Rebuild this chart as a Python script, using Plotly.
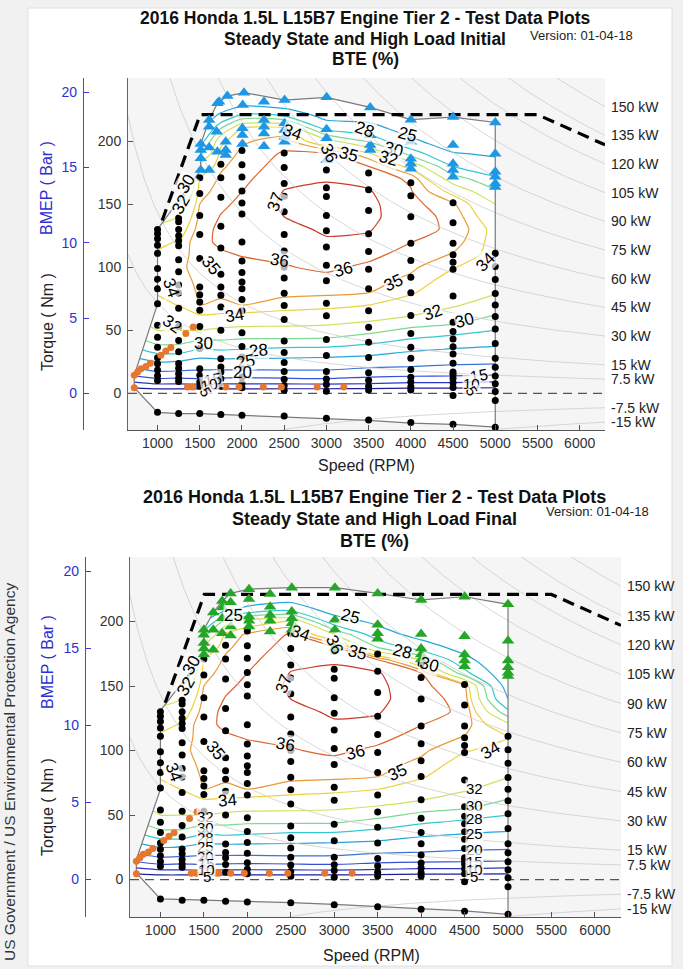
import numpy as np
import plotly.graph_objects as go

FONT = "Liberation Sans, Arial, sans-serif"

# ---------------- data ----------------
speed_cols = [720, 1000, 1250, 1500, 1750, 2000, 2500, 3000, 3500, 4000, 4500, 5000]
torque_rows = [-10, 0, 5, 10, 15, 20, 25, 30, 35, 40, 45, 50, 55, 60, 70, 80, 90,
               100, 110, 120, 130, 140, 150, 160, 170, 180, 190, 200, 210, 220, 230, 240]

# BTE (%) estimated per speed column (one value per torque row) - Initial
bte_initial = [
    [-6, 0, 5.6, 11.1, 16.2, 20, 23.1, 25.8, 27.6, 28.9, 30, 30.8, 31.5, 32.1, 32.7, 33, 33.2, 33.3, 33.3, 33.2, 33, 32.8, 32.5, 32, 31.5, 31, 30, 29, 28, 27, 26, 25],
    [-6, 0, 6.9, 13.1, 18.2, 21.9, 25, 27.5, 29.1, 30.3, 31.2, 32, 32.4, 32.8, 33.6, 34.1, 34.3, 34.3, 34.1, 33.8, 32.6, 31.3, 30, 28, 26, 25, 24, 23, 22, 21.5, 21, 21],
    [-6, 0, 7.0, 12.9, 17.8, 21.6, 24.7, 27.5, 29.1, 30.3, 31.2, 32, 32.6, 33.1, 34.04, 34.26, 34.48, 34.7, 34.38, 34.06, 33.1, 32, 30, 27.1, 24, 22.5, 22, 21.5, 21.5, 21, 21, 21],
    [-6, 0, 6.9, 13.6, 17.7, 20.8, 23.6, 26, 28, 29.4, 30.75, 32, 32.8, 33.7, 35, 35.16, 35.32, 35.48, 35.64, 35.8, 35.53, 35.27, 35, 34.55, 34.09, 32.4, 29.43, 26.5, 24, 22.5, 22, 21.5],
    [-6, 0, 6.9, 13.1, 17.5, 20.9, 23.8, 26.3, 28.25, 29.5, 30.6, 31.6, 32.6, 33.6, 34.8, 35.19, 35.43, 35.67, 35.9, 36.13, 36.26, 36.06, 35.79, 35.48, 35.18, 34.83, 34.39, 33.67, 30, 25.75, 22.6, 21.5],
    [-6, 0, 6.9, 12.8, 17.3, 20.9, 23.8, 26.1, 28, 29.25, 30.4, 31.4, 32.4, 33.4, 35, 35.26, 35.53, 35.79, 36.04, 36.27, 36.49, 36.48, 36.24, 36, 35.74, 35.47, 35.21, 34.85, 34.08, 28.67, 23.9, 21.5],
    [-6, 0, 6.8, 13.1, 17.7, 21.05, 23.7, 25.9, 27.6, 29.1, 30.4, 31.4, 32.3, 33.2, 34.6, 35.24, 35.59, 35.93, 36.21, 36.47, 36.74, 37, 37.17, 37.04, 36.76, 36.45, 36.15, 35.44, 34.25, 28, 22.9, 21.5],
    [-6, 0, 6.8, 13.5, 17.8, 20.9, 23.4, 25.6, 27.5, 29.04, 30.3, 31.2, 32.17, 33, 34.38, 35.19, 35.73, 36.18, 36.54, 36.89, 37.13, 37.31, 37.32, 37.15, 36.95, 36.48, 36, 32.67, 27.25, 23.8, 22, 21.5],
    [-6, 0, 6.6, 12.6, 16.7, 19.8, 22.4, 25.03, 26.76, 28.3, 29.45, 30.6, 31.66, 32.5, 34, 35.03, 35.42, 35.81, 36.25, 36.75, 37.08, 37.23, 37.23, 37.09, 36.71, 36, 34.33, 29.71, 26.5, 23.36, 22, 21.5],
    [-6, 0, 5.9, 11.7, 16.3, 19.44, 21.7, 23.8, 25.67, 27.2, 28.45, 29.5, 30.65, 31.8, 33.18, 34.19, 34.75, 35.22, 35.64, 36.02, 36.2, 36.45, 36.35, 36.09, 35.8, 33.5, 29.33, 25.75, 23.2, 22, 21.5, 21],
    [-6, 0, 6, 11.7, 15.86, 18.74, 21.05, 22.93, 24.81, 26.29, 27.71, 28.9, 30.03, 30.9, 32.22, 32.83, 33.45, 34.08, 34.92, 35.5, 35.9, 35.7, 35.2, 33.5, 31, 28, 25.27, 22.8, 22, 21.5, 21, 21],
    [-6, 0, 5.56, 10.94, 15.41, 18.35, 20.79, 22.57, 24.36, 25.73, 26.86, 28, 28.83, 29.67, 31.1, 32.16, 32.6, 33.05, 33.5, 33.5, 33.5, 32.75, 32, 30.33, 28.4, 26.5, 24.5, 23, 22, 21.5, 21, 21],
]

# BTE (%) estimated per speed column - Final
bte_final = [
    [-6, 0, 5.6, 11.1, 16.2, 20, 23.1, 25.8, 27.6, 28.9, 30, 30.8, 31.5, 32.1, 32.7, 33, 33.2, 33.3, 33.3, 33.2, 33, 32.8, 32.5, 32, 31.5, 31, 30, 29, 28, 27, 26, 25],
    [-6, 0, 6.9, 13.1, 18.2, 21.9, 25, 27.5, 29.1, 30.3, 31.2, 32, 32.4, 32.8, 33.6, 34.1, 34.3, 34.3, 34.1, 33.8, 32.6, 31.3, 30, 28, 26, 25, 24, 23, 22, 21.5, 21, 21],
    [-6, 0, 7.0, 12.9, 17.8, 21.6, 24.7, 27.5, 29.1, 30.3, 31.2, 32, 32.6, 33.1, 34.04, 34.26, 34.48, 34.7, 34.38, 34.06, 33.1, 32, 30, 27.1, 24, 22.5, 22, 21.5, 21.5, 21, 21, 21],
    [-6, 0, 6.9, 13.6, 17.7, 20.8, 23.6, 26, 28, 29.4, 30.75, 32, 32.8, 33.7, 35, 35.16, 35.32, 35.48, 35.64, 35.8, 35.53, 35.27, 35, 34.55, 34.09, 32.4, 29.2, 25, 23, 22, 21.5, 21],
    [-6, 0, 6.9, 13.1, 17.5, 20.9, 23.8, 26.3, 28.25, 29.5, 30.6, 31.6, 32.6, 33.6, 34.8, 35.19, 35.43, 35.67, 35.9, 36.13, 36.26, 36.06, 35.79, 35.48, 35.18, 34.8, 34.3, 31, 24, 22, 21.5, 21],
    [-6, 0, 6.9, 12.8, 17.3, 20.9, 23.8, 26.1, 28, 29.25, 30.4, 31.4, 32.4, 33.4, 35, 35.26, 35.53, 35.79, 36.04, 36.27, 36.49, 36.48, 36.24, 36, 35.72, 35.44, 35.17, 33, 25.6, 22.5, 21.5, 21],
    [-6, 0, 6.8, 13.1, 17.7, 21.05, 23.7, 25.9, 27.6, 29.1, 30.4, 31.4, 32.3, 33.2, 34.6, 35.24, 35.59, 35.93, 36.21, 36.47, 36.74, 37, 37.17, 37.04, 36.74, 36.42, 36.1, 34, 26.8, 23, 22, 21],
    [-6, 0, 6.8, 13.5, 17.8, 20.9, 23.4, 25.6, 27.5, 29.04, 30.3, 31.2, 32.17, 33, 34.38, 35.19, 35.73, 36.18, 36.54, 36.89, 37.13, 37.31, 37.32, 37.15, 36.92, 36.15, 32, 26.5, 23.4, 22, 21.5, 21],
    [-6, 0, 6.6, 12.6, 16.7, 19.8, 22.4, 25.03, 26.76, 28.3, 29.45, 30.6, 31.66, 32.5, 34, 35.03, 35.42, 35.81, 36.25, 36.75, 37.08, 37.23, 37.23, 37.09, 36.2, 30, 26.5, 24.3, 23, 22, 21.5, 21],
    [-6, 0, 5.9, 11.7, 16.3, 19.44, 21.7, 23.8, 25.67, 27.2, 28.45, 29.5, 30.65, 31.8, 33.18, 34.19, 34.75, 35.22, 35.64, 36.02, 36.2, 36.45, 36.3, 36.04, 32, 26.67, 23.75, 22.5, 22, 21.5, 21, 21],
    [-6, 0, 6, 11.7, 15.86, 18.74, 21.05, 22.93, 24.81, 26.29, 27.71, 28.9, 30.03, 30.9, 32.22, 32.83, 33.45, 34.08, 34.92, 35.5, 35.9, 35.6, 35.1, 28.8, 26, 23.7, 22.5, 22, 21.5, 21, 21, 21],
    [-6, 0, 5.56, 10.94, 15.41, 18.35, 20.79, 22.57, 24.36, 25.73, 26.86, 28, 28.83, 29.67, 31.1, 32.1, 32.75, 33.6, 34.0, 32.5, 28.57, 25, 23.5, 22.5, 22, 21.5, 21.5, 21, 21, 21, 21, 21],
]

contour_levels = [5, 10, 15, 20, 25, 28, 30, 32, 34, 35, 36, 37]
level_colors = ['#1d1d96', '#2a36c4', '#3552d6', '#3a72d8', '#26a6da', '#36c8cf',
                '#7dd98d', '#cfe25e', '#ecd23c', '#ea9a34', '#dc6630', '#c93b2b']

# contour labels as they appear in the picture: text, speed, torque, angle, font size
labels_initial = [
    ("37", 2400, 152, -70, 17), ("36", 3030, 190, 65, 17), ("35", 3265, 189, 15, 17), ("34", 2600, 207, 20, 17),
    ("28", 3450, 209, 20, 17), ("25", 3960, 205, 15, 17), ("30", 3800, 193, 15, 17), ("32", 3740, 186, 15, 17),
    ("36", 2450, 105, 10, 17), ("36", 3200, 98, -15, 17), ("35", 3800, 88, -25, 17), ("35", 1630, 101, 50, 17),
    ("34", 4880, 104, -45, 17), ("34", 1160, 84, 70, 17), ("32", 1180, 55, 35, 17), ("34", 1910, 62, -10, 17),
    ("32", 4260, 64.5, -20, 17), ("30", 4630, 58, -15, 17), ("30", 1540, 39.5, 0, 17), ("28", 2190, 34, -5, 17),
    ("25", 2040, 25.5, -10, 17), ("20", 2010, 16.5, 0, 17), ("15", 1660, 11, -10, 16), ("15", 4810, 14.3, -10, 16),
    ("10", 1620, 6.8, -10, 15), ("10", 4720, 7.7, 0, 15), ("5", 1570, 1.5, 60, 15), ("5", 4720, 2.4, 60, 15),
    ("32", 1275, 150, -60, 17), ("30", 1345, 166, -60, 17),
]
labels_final = [
    ("37", 2420, 152, -70, 17), ("36", 3000, 182, 65, 17), ("35", 3265, 176, 15, 17), ("34", 2613, 191, 20, 17),
    ("25", 1845, 205, 0, 17), ("25", 3189, 204, 15, 17), ("28", 3784, 177, 15, 17), ("30", 4091, 167, 15, 17),
    ("36", 2440, 105, 10, 17), ("36", 3246, 98.5, -15, 17), ("35", 3726, 83, -25, 17), ("35", 1634, 100, 50, 17),
    ("34", 4800, 100, -30, 17), ("34", 1154, 83, 70, 17), ("34", 1769, 61.5, -5, 17),
    ("32", 1519, 49, 0, 15), ("30", 1519, 40, 0, 15), ("28", 1519, 33, 0, 15), ("25", 1519, 25.6, 0, 15),
    ("20", 1519, 18, 0, 15), ("15", 1530, 12.8, 0, 15), ("10", 1535, 7.7, 0, 15), ("5", 1540, 2.5, 0, 15),
    ("32", 4610, 70.5, 0, 15), ("30", 4610, 57.7, 0, 15), ("28", 4610, 47.4, 0, 15), ("25", 4610, 36, 0, 15),
    ("20", 4610, 23, 0, 15), ("15", 4610, 14, 0, 15), ("10", 4610, 8.2, 0, 15), ("5", 4610, 2.5, 0, 15),
    ("32", 1290, 150, -60, 17), ("30", 1355, 166, -60, 17),
]

# steady-state test points (black)
pt_speed_cols = [1000, 1250, 1500, 1750, 2000, 2500, 3000, 3500, 4000, 4500, 5000]
pt_torque = [
    [130, 126.5, 122.5, 117.5, 111, 99, 90.5, 83, 71, 54, 44.5, 36.5, 28.3, 23.5, 18.5, 14, 10.3, -15],
    [139, 136, 130, 125, 121, 117, 106, 96.5, 86, 79.5, 67.5, 53, 42, 33, 23.7, 20, 15.5, 12, 9.5, -16],
    [171, 158.5, 141, 126, 107, 84.4, 78.3, 72.5, 66, 53, 35.5, 19.6, 14.3, 9, 5.6, -16],
    [181.7, 171, 155.5, 132.5, 115.3, 94.4, 84.4, 77.8, 68.5, 50, 27.5, 20.9, 16.9, 11.6, 5.6, -16.7],
    [192.6, 181.2, 171.5, 160.5, 151, 142.2, 120, 105, 95.8, 88.3, 83, 74.5, 65.5, 48, 37.2, 28.8, 20.5, 13, 8, 4.5, -17.3],
    [190.5, 179, 166.3, 156.3, 144, 126, 112.8, 102.5, 100, 91.5, 79.3, 69.7, 58.5, 41.5, 32.4, 24.5, 17.4, 11.3, 6.3, 2.5, -18],
    [177, 163, 156, 141, 129, 116, 101.6, 89.2, 71.5, 61.5, 42.8, 30, 17.4, 11.5, 7, 1.8, -19.6],
    [174.8, 161.5, 145, 126.5, 112.5, 98.4, 83, 65.6, 52.4, 40.6, 28.4, 16.4, 10.5, 5.7, 2.7, -21],
    [167, 156.6, 140, 119, 105.3, 92, 79.8, 61.8, 47.5, 36.5, 27.8, 19, 12.8, 9, 5.3, 2.8, -23],
    [151.2, 135.3, 119, 110, 104, 98.5, 77.2, 56.5, 49, 43.2, 37, 31.2, 24, 17, 15, 12, 8.4, 4.6, -1.7, -24.5],
    [111, 100.6, 90.2, 79.1, 70, 61, 51, 39.5, 27.8, 20.7, 13.8, 7.7, 1.5, -5.6, -26.8],
]

# high-load points (triangles)
tri_initial_speed = [1709, 1729, 1827, 2024, 2009, 2261, 2505, 3002, 1611, 1611, 1701, 1512, 1512, 1512, 1512,
                     1611, 1611, 1709, 1808, 1808, 1808, 2005, 2005, 2005, 2261, 2261, 2261, 2261,
                     2505, 2505, 2505, 2505, 3002, 3002, 3002, 3519, 4000, 4500, 5000, 3519, 3519, 3519,
                     4000, 4000, 4000, 4000, 4500, 4500, 4500, 4500, 5000, 5000, 5000, 5000, 5000]
tri_initial_torque = [229.9, 231.2, 235.7, 238.4, 228.6, 231.2, 232.5, 234.7, 216.7, 211.4, 207.4, 197.6, 192.9, 186.3, 177,
                      194.9, 177, 191.5, 199.5, 192.9, 188.9, 210.1, 204.8, 197.6, 216.7, 211.4, 206.1, 196,
                      214.1, 208.7, 203.4, 199.5, 209.4, 202.2, 185, 226.7, 217, 219, 214.8, 204.7, 196.8, 192.9,
                      199.5, 186, 182, 178, 196.8, 182, 177, 171.7, 190, 175.6, 171.7, 166.4, 163.7]
tri_final_speed = [1808, 2019, 2019, 2262, 2512, 3008, 1711, 1711, 1808, 1608, 1711, 1500, 1500, 1500, 1500, 1500,
                   1608, 1608, 1711, 1808, 1808, 2019, 2019, 2019, 2262, 2262, 2262, 2262,
                   2512, 2512, 2512, 2512, 3008, 3008, 3008, 3500, 4000, 4500, 5000, 3500, 3500, 3500,
                   4000, 4000, 4000, 4000, 4500, 4500, 4500, 4500, 5000, 5000, 5000, 5000, 5000]
tri_final_torque = [221.8, 225.1, 217.4, 221.3, 226.2, 226.2, 215.9, 210.8, 215, 207, 202.6, 193.6, 189.7, 183.3, 179, 174.4,
                    193.6, 178.2, 191, 196.2, 189.2, 203.8, 200.5, 196.2, 211.5, 205.1, 200.5, 192.3,
                    207.7, 202.6, 198.7, 193.6, 201.3, 193.6, 179.5, 221.8, 216.7, 219.2, 213.3, 197.4, 191, 186.7,
                    190.3, 179, 174.4, 170.5, 188.5, 174.4, 169.7, 165.4, 185.1, 169.7, 164.6, 160.3, 157.7]

# low-speed / motoring points (orange)
orange_speed = [724, 724, 764, 803, 862, 913, 1039, 1098, 1158, 1335, 1422, 1355, 1414, 1630, 1670, 1808, 1965, 2253, 2466, 2891, 3206]
orange_torque = [4.5, 14.3, 16.9, 19.6, 21.4, 24, 30.2, 33.6, 36.3, 47.4, 52.6, 5, 5, 5, 5, 5, 5, 5, 5, 5, 5]

# maximum torque curve (dashed)
max_speed = [1055, 1440, 1505, 5500, 6300]
max_torque = [137, 209, 221, 221, 197]

# test-area outline
bnd_initial_speed = [1000, 1512, 1512, 1611, 1709, 1827, 2024, 2505, 3002, 3519, 4000, 4500, 5000, 5000,
                     4500, 4000, 3500, 3000, 2500, 2000, 1750, 1500, 1250, 1000, 724, 724, 1000, 1000]
bnd_initial_torque = [130, 177, 197.6, 216.7, 229.9, 235.7, 238.4, 232.5, 234.7, 226.7, 217, 219, 214.8, -26.7,
                      -24.6, -23.6, -21.4, -20, -18.3, -17.5, -16.7, -16, -16, -15, 4.5, 14.3, 71, 130]
bnd_final_speed = [1000, 1500, 1500, 1608, 1711, 1808, 2019, 2512, 3008, 3500, 4000, 4500, 5000, 5000,
                   4500, 4000, 3500, 3000, 2500, 2000, 1750, 1500, 1250, 1000, 723, 723, 1000, 1000]
bnd_final_torque = [131, 174.4, 193.6, 207, 215.9, 221.8, 225.1, 226.2, 226.2, 221.8, 216.7, 219.2, 213.3, -26.9,
                    -24.3, -22.6, -20.5, -19.2, -17.9, -17, -16, -16, -15.4, -14.9, 5.1, 15.4, 70, 131]

power_kw = [150, 135, 120, 105, 90, 75, 60, 45, 30, 15, 7.5, -7.5, -15]
power_labels = ["150 kW", "135 kW", "120 kW", "105 kW", "90 kW", "75 kW", "60 kW", "45 kW",
                "30 kW", "15 kW", "7.5 kW", "-7.5 kW", "-15 kW"]

x_ticks = [1000, 1500, 2000, 2500, 3000, 3500, 4000, 4500, 5000, 5500, 6000]
torque_ticks = [0, 50, 100, 150, 200]
bmep_ticks = [0, 5, 10, 15, 20]

DISPLACEMENT_L = 1.5
NM_PER_BAR = DISPLACEMENT_L * 100 / (4 * np.pi)  # torque per bar BMEP (4-stroke)
X_RANGE = [650, 6300]
T_RANGE = [-29, 250]

W, H = 683, 969
GRAY_OUT = '#f5f5f5'

panels = [
    dict(xa='x', ya='y', yb='y3', xdom=[128 / W, 605 / W], ydom=[1 - 430 / H, 1 - 78 / H], bpos=83 / W,
         z=bte_initial, labels=labels_initial, tri=(tri_initial_speed, tri_initial_torque), tri_color='#1e98e4',
         bnd=(bnd_initial_speed, bnd_initial_torque),
         title_x=365, title_y=[18, 39, 59], subtitle="Steady State and High Load Initial", ver=(581, 36),
         bmep_title_y=188, torque_title_y=322, speed_title=(366, 466), tsize=17.5),
    dict(xa='x2', ya='y2', yb='y4', xdom=[130 / W, 621 / W], ydom=[1 - 917 / H, 1 - 557 / H], bpos=85 / W,
         z=bte_final, labels=labels_final, tri=(tri_final_speed, tri_final_torque), tri_color='#26a629',
         bnd=(bnd_final_speed, bnd_final_torque),
         title_x=374, title_y=[497, 519, 541], subtitle="Steady State and High Load Final", ver=(597, 512),
         bmep_title_y=662, torque_title_y=807, speed_title=(371, 955), tsize=18),
]

fig = go.Figure()
annotations = []
layout_axes = {}

for k, p in enumerate(panels):
    xa, ya, yb = p['xa'], p['ya'], p['yb']
    Z = np.array(p['z']).T  # rows = torque, cols = speed

    for lv, col in zip(contour_levels, level_colors):
        fig.add_trace(go.Contour(
            x=speed_cols, y=torque_rows, z=Z, xaxis=xa, yaxis=ya,
            autocontour=False,
            contours=dict(start=lv, end=lv, size=100, coloring='none', showlabels=False),
            line=dict(color=col, width=1.2, smoothing=0.6),
            showscale=False, hoverinfo='skip'))

    # grey mask outside the tested area (rectangle with the outline as a hole)
    bs, bt = p['bnd']
    mx = [600, 6400, 6400, 600, 600] + list(bs)
    my = [-40, -40, 260, 260, -40] + list(bt)
    fig.add_trace(go.Scatter(x=mx, y=my, xaxis=xa, yaxis=ya, mode='lines', fill='toself',
                             fillcolor=GRAY_OUT, line=dict(width=0, color=GRAY_OUT), hoverinfo='skip'))

    # constant power curves
    n = np.linspace(X_RANGE[0], X_RANGE[1], 300)
    for P, lab in zip(power_kw, power_labels):
        tq = P * 1000 * 60 / (2 * np.pi * n)
        fig.add_trace(go.Scatter(x=n, y=tq, xaxis=xa, yaxis=ya, mode='lines',
                                 line=dict(color='#cdcdcd', width=0.8), hoverinfo='skip'))
        annotations.append(dict(x=p['xdom'][1] + 4 / W, xref='paper', xanchor='left',
                                y=P * 1000 * 60 / (2 * np.pi * X_RANGE[1]), yref=ya, yanchor='middle',
                                text=lab, showarrow=False,
                                font=dict(family=FONT, size=14, color='#222')))

    # zero torque dashed line
    fig.add_trace(go.Scatter(x=X_RANGE, y=[0, 0], xaxis=xa, yaxis=ya, mode='lines',
                             line=dict(color='#555', width=1.2, dash='9px,6px'), hoverinfo='skip'))
    # outline
    fig.add_trace(go.Scatter(x=bs, y=bt, xaxis=xa, yaxis=ya, mode='lines',
                             line=dict(color='#7a7a7a', width=1.2), hoverinfo='skip'))
    # max torque dashed
    fig.add_trace(go.Scatter(x=max_speed, y=max_torque, xaxis=xa, yaxis=ya, mode='lines',
                             line=dict(color='black', width=3.2, dash='12px,7px'), hoverinfo='skip'))
    # black points
    px = [s for s, col in zip(pt_speed_cols, pt_torque) for _ in col]
    py = [t for col in pt_torque for t in col]
    fig.add_trace(go.Scatter(x=px, y=py, xaxis=xa, yaxis=ya, mode='markers',
                             marker=dict(color='black', size=7), hoverinfo='skip'))
    # orange points
    fig.add_trace(go.Scatter(x=orange_speed, y=orange_torque, xaxis=xa, yaxis=ya, mode='markers',
                             marker=dict(color='#e8772e', size=7), hoverinfo='skip'))
    # triangles
    fig.add_trace(go.Scatter(x=p['tri'][0], y=p['tri'][1], xaxis=xa, yaxis=ya, mode='markers',
                             marker=dict(color=p['tri_color'], size=11, symbol='triangle-up'), hoverinfo='skip'))
    # BMEP axis holder
    fig.add_trace(go.Scatter(x=[None], y=[None], xaxis=xa, yaxis=yb, mode='markers', hoverinfo='skip'))

    # contour labels
    for txt, s, t, ang, fs in p['labels']:
        annotations.append(dict(x=s, y=t, xref=xa, yref=ya, text=txt, showarrow=False, textangle=ang,
                                xanchor='center', yanchor='middle', bgcolor='rgba(255,255,255,0.7)',
                                borderpad=0, font=dict(family=FONT, size=fs, color='black')))

    xkey = 'xaxis' if xa == 'x' else 'xaxis' + xa[1:]
    ykey = 'yaxis' if ya == 'y' else 'yaxis' + ya[1:]
    bkey = 'yaxis' + yb[1:]
    layout_axes[xkey] = dict(domain=p['xdom'], anchor=ya, range=X_RANGE, tickvals=x_ticks,
                             ticks='inside', ticklen=5, tickcolor='#555', showline=True, linecolor='#555',
                             linewidth=1, showgrid=False, zeroline=False,
                             tickfont=dict(family=FONT, size=14, color='#333'))
    layout_axes[ykey] = dict(domain=p['ydom'], anchor=xa, range=T_RANGE, tickvals=torque_ticks,
                             ticks='inside', ticklen=5, tickcolor='#555', showline=True, linecolor='#666',
                             linewidth=1, showgrid=False, zeroline=False, ticklabelstandoff=3,
                             tickfont=dict(family=FONT, size=14, color='#333'))
    layout_axes[bkey] = dict(overlaying=ya, anchor='free', position=p['bpos'], side='left',
                             range=[T_RANGE[0] / NM_PER_BAR, T_RANGE[1] / NM_PER_BAR], tickvals=bmep_ticks,
                             ticks='inside', ticklen=5, tickcolor='#3a3ad8', showline=True,
                             linecolor='#4a4ae0', linewidth=1.2, showgrid=False, zeroline=False,
                             ticklabelstandoff=3,
                             tickfont=dict(family=FONT, size=14, color='#2f2fd2'))

    # titles
    tx = p['title_x'] / W
    common = dict(xref='paper', yref='paper', showarrow=False, xanchor='center', yanchor='middle')
    annotations += [
        dict(x=tx, y=1 - p['title_y'][0] / H, text="<b>2016 Honda 1.5L L15B7 Engine Tier 2 - Test Data Plots</b>",
             font=dict(family=FONT, size=p['tsize'], color='#111'), **common),
        dict(x=tx, y=1 - p['title_y'][1] / H, text="<b>" + p['subtitle'] + "</b>",
             font=dict(family=FONT, size=p['tsize'], color='#111'), **common),
        dict(x=tx, y=1 - p['title_y'][2] / H, text="<b>BTE (%)</b>",
             font=dict(family=FONT, size=p['tsize'], color='#111'), **common),
        dict(x=p['ver'][0] / W, y=1 - p['ver'][1] / H, text="Version: 01-04-18",
             font=dict(family=FONT, size=13, color='#222'), **common),
        dict(x=47 / W, y=1 - p['bmep_title_y'] / H, text="BMEP ( Bar )", textangle=-90,
             font=dict(family=FONT, size=16, color='#2f2fd2'), **common),
        dict(x=47 / W, y=1 - p['torque_title_y'] / H, text="Torque ( Nm )", textangle=-90,
             font=dict(family=FONT, size=16, color='#222'), **common),
        dict(x=p['speed_title'][0] / W, y=1 - p['speed_title'][1] / H, text="Speed (RPM)",
             font=dict(family=FONT, size=16, color='#222'), **common),
    ]

annotations.append(dict(x=9 / W, y=1 - 772 / H, xref='paper', yref='paper', showarrow=False,
                        xanchor='center', yanchor='middle',
                        text="US Government / US Environmental Protection Agency", textangle=-90,
                        font=dict(family=FONT, size=15.5, color='#333')))

fig.update_layout(
    width=W, height=H, autosize=False, showlegend=False,
    margin=dict(l=0, r=0, t=0, b=0),
    paper_bgcolor='#f1f1f1', plot_bgcolor='white',
    annotations=annotations,
    shapes=[dict(type='rect', xref='paper', yref='paper', x0=28 / W, x1=672 / W,
                 y0=1 - 966 / H, y1=1 - 8 / H, fillcolor='white', line=dict(color='#e0e0e0', width=1),
                 layer='below')],
    **layout_axes,
)

fig.write_html("out.html", config={'displayModeBar': False},
               post_script="document.body.style.margin='0';document.body.style.overflow='hidden';")
